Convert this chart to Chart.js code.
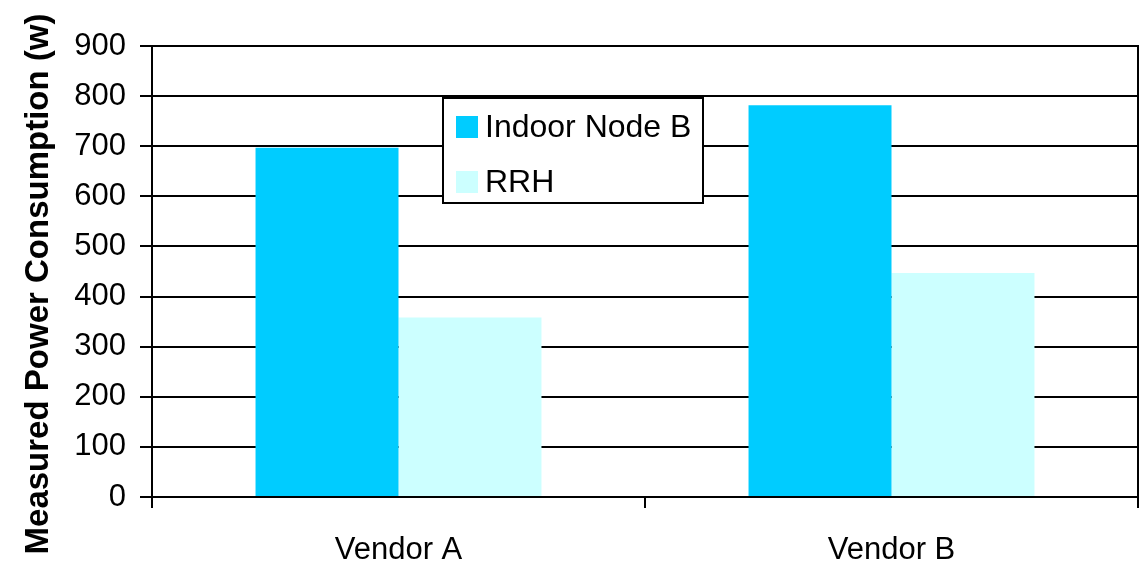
<!DOCTYPE html>
<html>
<head>
<meta charset="utf-8">
<script src="https://cdn.jsdelivr.net/npm/chart.js@4"></script>
<style>
html,body{margin:0;padding:0;background:#fff;}
#wrap{width:1148px;height:566px;}
</style>
</head>
<body>
<div id="wrap"><canvas id="c" width="1148" height="566"></canvas></div>
<script>
const categories = ["Vendor A", "Vendor B"];
const indoorNodeB = [697, 782];
const rrh = [358, 447];
const seriesLabels = ["Indoor Node B", "RRH"];
const yTitle = "Measured Power Consumption (w)";
const FONT = "'Liberation Sans', Arial, sans-serif";

const overlay = {
  id: 'overlay',
  afterDraw(chart) {
    const ctx = chart.ctx, a = chart.chartArea;
    ctx.save();
    // right border of plot
    ctx.strokeStyle = '#000';
    ctx.lineWidth = 2;
    ctx.beginPath();
    ctx.moveTo(a.right, a.top - 1);
    ctx.lineTo(a.right, a.bottom);
    ctx.stroke();
    // y title
    ctx.fillStyle = '#000';
    ctx.font = "bold 33px " + FONT;
    ctx.textAlign = 'center';
    ctx.textBaseline = 'middle';
    ctx.translate(39, 284);
    ctx.rotate(-Math.PI / 2);
    ctx.fillText(yTitle, 0, 0);
    ctx.restore();
    // legend
    ctx.save();
    const bx = 443, by = 98, bw = 260, bh = 105;
    ctx.fillStyle = '#fff';
    ctx.fillRect(bx, by, bw, bh);
    ctx.strokeStyle = '#000';
    ctx.lineWidth = 2;
    ctx.strokeRect(bx, by, bw, bh);
    ctx.font = "32px " + FONT;
    ctx.textBaseline = 'middle';
    ctx.textAlign = 'left';
    const rows = [127, 182];
    chart.data.datasets.forEach((ds, i) => {
      ctx.fillStyle = ds.backgroundColor;
      ctx.fillRect(456, rows[i] - 11, 22, 22);
      ctx.fillStyle = '#000';
      ctx.fillText(ds.label, 485, rows[i] + 1);
    });
    ctx.restore();
  }
};

new Chart(document.getElementById('c'), {
  type: 'bar',
  data: {
    labels: categories,
    datasets: [
      { label: seriesLabels[0], data: indoorNodeB, backgroundColor: '#00CCFF', categoryPercentage: 0.58, barPercentage: 1.0 },
      { label: seriesLabels[1], data: rrh, backgroundColor: '#CCFFFF', categoryPercentage: 0.58, barPercentage: 1.0 }
    ]
  },
  options: {
    responsive: false,
    animation: false,
    devicePixelRatio: 1,
    layout: { padding: { top: 46, right: 10, left: 0, bottom: 0 } },
    plugins: { legend: { display: false }, tooltip: { enabled: false } },
    scales: {
      x: {
        offset: true,
        grid: { offset: true, drawOnChartArea: false, drawTicks: true, tickLength: 11, color: '#000', lineWidth: 2 },
        border: { color: '#000', width: 2, z: 1 },
        ticks: { color: '#000', font: { family: FONT, size: 31 }, padding: 24 },
        afterFit(s) { s.height = 69; }
      },
      y: {
        min: 0, max: 900,
        ticks: { stepSize: 100, color: '#000', font: { family: FONT, size: 31 }, padding: 14 },
        grid: { color: '#000', lineWidth: 2, tickLength: 12 },
        border: { color: '#000', width: 2 },
        afterFit(s) { s.width = 152; }
      }
    }
  },
  plugins: [overlay]
});
</script>
</body>
</html>
